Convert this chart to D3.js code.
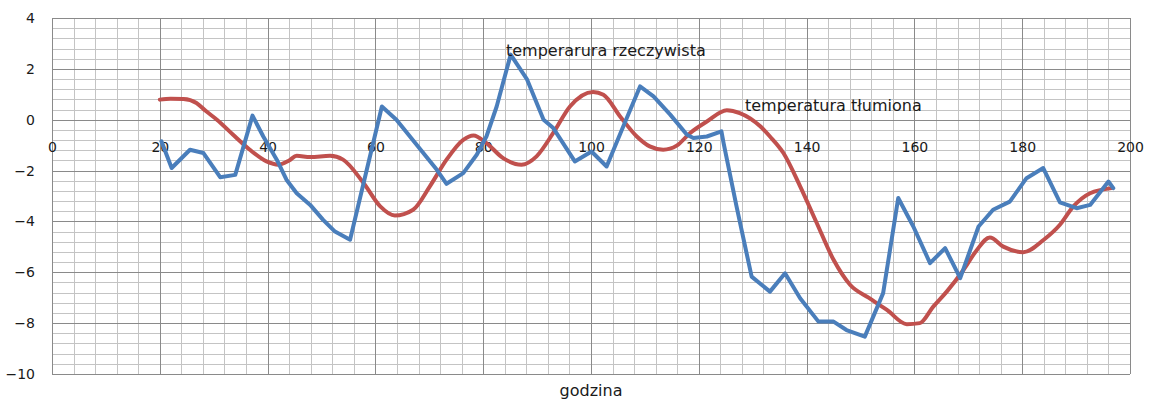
<!DOCTYPE html>
<html>
<head>
<meta charset="utf-8">
<script src="https://cdn.jsdelivr.net/npm/d3@7"></script>
<style>
  html, body { margin: 0; padding: 0; background: #ffffff; }
  svg { display: block; }
  text { font-family: "DejaVu Sans", sans-serif; fill: #1a1a1a; }
</style>
</head>
<body>
<svg id="chart" width="1149" height="399"></svg>
<script>
// Hour of each reading (godzina) and the measured temperature
const realHours = [20.3, 22.2, 25.6, 28.1, 31.2, 34, 37.2, 39.2, 41.7, 43.5, 45.4, 47.9, 50.3, 52.5, 55.3,
  61.2, 63.9, 71.4, 73.2, 76.3, 78.8, 80.6, 82.5, 85.1, 88.1, 91.2, 93, 97, 100.1, 102.9, 106, 109.1,
  111.6, 114.7, 117.8, 119, 121.5, 124.2, 124.6, 127, 129.8, 133.2, 136, 138.8, 142.2, 145, 147.4,
  150.8, 154.2, 157, 159.8, 162.9, 165.7, 168.5, 171.9, 174.6, 177.7, 180.8, 183.9, 187, 190.1,
  192.6, 196, 196.9];
const realTemps = [-0.85, -1.9, -1.18, -1.31, -2.26, -2.17, 0.16, -0.66, -1.57, -2.36, -2.89, -3.35, -3.94, -4.4, -4.72,
  0.52, 0.0, -1.97, -2.52, -2.1, -1.38, -0.66, 0.52, 2.56, 1.6, 0.0, -0.33, -1.64, -1.25, -1.84, -0.26, 1.31,
  0.92, 0.2, -0.59, -0.72, -0.66, -0.46, -0.92, -3.41, -6.17, -6.76, -6.04, -7.02, -7.94, -7.94, -8.27,
  -8.53, -6.82, -3.08, -4.2, -5.64, -5.05, -6.23, -4.2, -3.54, -3.22, -2.3, -1.9, -3.25, -3.48,
  -3.35, -2.43, -2.69];

// Damped temperature
const dampHours = [20, 22, 24.4, 26.8, 28.5, 30.6, 33.6, 36.7, 39.8, 42, 44, 45.4, 47.9, 51.6, 54,
  57.8, 60.9, 63.6, 67, 70.1, 73.2, 76.3, 78.2, 80.6, 83.7, 87.1, 89.9, 93, 96.1, 100.4, 102.3,
  105.4, 108.5, 110.9, 113.4, 115.9, 118.4, 121.5, 125.2, 127.6, 131.4, 133.2, 135.7, 138.8, 141.9,
  145, 148.1, 151.5, 154.9, 158.6, 161, 163.5, 166, 169.1, 171.6, 174, 176.5, 180.2, 184, 187,
  189.5, 192.6, 196.6];
const dampTemps = [0.79, 0.82, 0.81, 0.66, 0.35, 0.0, -0.59, -1.18, -1.64, -1.77, -1.6, -1.42, -1.47, -1.42, -1.57,
  -2.49, -3.41, -3.77, -3.54, -2.62, -1.57, -0.79, -0.62, -0.92, -1.51, -1.77, -1.44, -0.52, 0.52, 1.09, 0.98,
  0.13, -0.66, -1.05, -1.18, -1.02, -0.52, -0.07, 0.37, 0.26, -0.26, -0.66, -1.31, -2.62, -4.07,
  -5.51, -6.5, -7.0, -7.48, -8.04, -8.0, -7.35, -6.76, -5.91, -5.12, -4.63, -4.99, -5.21, -4.72, -4.13,
  -3.41, -2.89, -2.69];

const xTicks = [0, 20, 40, 60, 80, 100, 120, 140, 160, 180, 200];
const yTicks = [-10, -8, -6, -4, -2, 0, 2, 4];
const realLabel = "temperarura rzeczywista";
const dampLabel = "temperatura tłumiona";
const xTitle = "godzina";

const svg = d3.select("#chart");
const plotLeft = 52, plotRight = 1130, plotTop = 18, plotBottom = 374;

const x = d3.scaleLinear().domain([0, 200]).range([plotLeft, plotRight]);
const y = d3.scaleLinear().domain([-10, 4]).range([plotBottom, plotTop]);

// Grid: minor lines every 4 h / 0.4 °, major every 20 h / 2 °
const grid = svg.append("g").attr("shape-rendering", "crispEdges");
const minorX = d3.range(0, 201, 4).filter(v => v % 20 !== 0);
const minorY = d3.range(0, 36).map(i => -10 + i * 0.4).filter(v => Math.abs(v / 2 - Math.round(v / 2)) > 1e-6);

grid.selectAll(".mx").data(minorX).join("line")
  .attr("x1", d => Math.round(x(d)) + 0.5).attr("x2", d => Math.round(x(d)) + 0.5)
  .attr("y1", plotTop).attr("y2", plotBottom)
  .attr("stroke", "#c4c4c4").attr("stroke-width", 1);
grid.selectAll(".my").data(minorY).join("line")
  .attr("y1", d => Math.round(y(d)) + 0.5).attr("y2", d => Math.round(y(d)) + 0.5)
  .attr("x1", plotLeft).attr("x2", plotRight)
  .attr("stroke", "#c4c4c4").attr("stroke-width", 1);
grid.selectAll(".Mx").data(xTicks).join("line")
  .attr("x1", d => Math.round(x(d)) + 0.5).attr("x2", d => Math.round(x(d)) + 0.5)
  .attr("y1", plotTop).attr("y2", plotBottom)
  .attr("stroke", "#8a8a8a").attr("stroke-width", 1);
grid.selectAll(".My").data(yTicks).join("line")
  .attr("y1", d => Math.round(y(d)) + 0.5).attr("y2", d => Math.round(y(d)) + 0.5)
  .attr("x1", plotLeft).attr("x2", plotRight)
  .attr("stroke", "#8a8a8a").attr("stroke-width", 1);

// Axes
const yAxis = svg.append("g")
  .attr("transform", `translate(${plotLeft},0)`)
  .call(d3.axisLeft(y).tickValues(yTicks).tickSize(0).tickPadding(17).tickFormat(d3.format("d")));
yAxis.select(".domain").remove();
yAxis.selectAll("text").style("font-size", "14px").style("font-family", "DejaVu Sans, sans-serif").attr("fill", "#1a1a1a");

const xAxis = svg.append("g")
  .attr("transform", `translate(0,${y(0)})`)
  .call(d3.axisBottom(x).tickValues(xTicks).tickSize(0).tickPadding(22).tickFormat(d3.format("d")));
xAxis.select(".domain").remove();
xAxis.selectAll("text").style("font-size", "14px").style("font-family", "DejaVu Sans, sans-serif").attr("fill", "#1a1a1a");

// Series
const realPts = realHours.map((h, i) => [h, realTemps[i]]);
const dampPts = dampHours.map((h, i) => [h, dampTemps[i]]);

svg.append("path")
  .attr("d", d3.line().x(d => x(d[0])).y(d => y(d[1])).curve(d3.curveMonotoneX)(dampPts))
  .attr("fill", "none").attr("stroke", "#c0504d").attr("stroke-width", 4)
  .attr("stroke-linejoin", "round").attr("stroke-linecap", "round");

svg.append("path")
  .attr("d", d3.line().x(d => x(d[0])).y(d => y(d[1])).curve(d3.curveLinear)(realPts))
  .attr("fill", "none").attr("stroke", "#4a7ebb").attr("stroke-width", 4)
  .attr("stroke-linejoin", "round").attr("stroke-linecap", "round");

// Series labels
svg.append("text").attr("x", 506).attr("y", 56).style("font-size", "16px").text(realLabel);
svg.append("text").attr("x", 745).attr("y", 111).style("font-size", "16px").text(dampLabel);

// Axis title
svg.append("text").attr("x", (plotLeft + plotRight) / 2).attr("y", 396)
  .attr("text-anchor", "middle").style("font-size", "16px").text(xTitle);
</script>
</body>
</html>
